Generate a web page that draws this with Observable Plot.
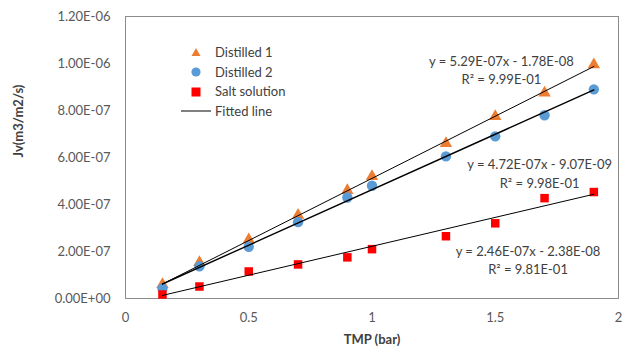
<!DOCTYPE html>
<html>
<head>
<meta charset="utf-8">
<script src="https://cdn.jsdelivr.net/npm/d3@7"></script>
<script src="https://cdn.jsdelivr.net/npm/@observablehq/plot@0.6"></script>
<style>
  html, body { margin: 0; padding: 0; background: #fff; }
  #wrap { position: relative; width: 628px; height: 353px; font-family: Lato, "Open Sans", sans-serif; }
  #legend { position: absolute; left: 180px; top: 43px; font-size: 13px; color: #404040; line-height: 19.5px; }
  #legend .row { display: flex; align-items: center; height: 19.5px; }
  #legend svg { width: 32px; height: 14px; margin-right: 3px; }
</style>
</head>
<body>
<div id="wrap"></div>
<script>
const seriesNames = ["Distilled 1", "Distilled 2", "Salt solution"];
const tmp = [0.15, 0.3, 0.5, 0.7, 0.9, 1.0, 1.3, 1.5, 1.7, 1.9];
const distilled1 = [6.0e-8, 1.54e-7, 2.5e-7, 3.55e-7, 4.6e-7, 5.2e-7, 6.6e-7, 7.75e-7, 8.75e-7, 9.95e-7];
const distilled2 = [4.3e-8, 1.37e-7, 2.2e-7, 3.25e-7, 4.3e-7, 4.8e-7, 6.05e-7, 6.9e-7, 7.8e-7, 8.9e-7];
const salt = [1.7e-8, 5.1e-8, 1.15e-7, 1.45e-7, 1.75e-7, 2.1e-7, 2.65e-7, 3.2e-7, 4.27e-7, 4.53e-7];
const fitSlopes = [5.29e-7, 4.72e-7, 2.46e-7];
const fitIntercepts = [-1.78e-8, -9.07e-9, -2.38e-8];
const eqLabels = ["y = 5.29E-07x - 1.78E-08\nR\u00B2 = 9.99E-01",
                  "y = 4.72E-07x - 9.07E-09\nR\u00B2 = 9.98E-01",
                  "y = 2.46E-07x - 2.38E-08\nR\u00B2 = 9.81E-01"];
const yTicks = [0, 2e-7, 4e-7, 6e-7, 8e-7, 1e-6, 1.2e-6];
const yTickLabels = ["0.00E+00", "2.00E-07", "4.00E-07", "6.00E-07", "8.00E-07", "1.00E-06", "1.20E-06"];
const xTicks = [0, 0.5, 1, 1.5, 2];
const xTickLabels = ["0", "0.5", "1", "1.5", "2"];

const colors = ["#ED7D31", "#5B9BD5", "#FF0000"];
const symbols = ["triangle", "circle", "square"];
const radii = [4.6, 5.2, 4.8];
const seriesValues = [distilled1, distilled2, salt];

const points = seriesValues.map((vals, s) => tmp.map((x, i) => ({x, y: vals[i], s})));
const xMin = d3.min(tmp), xMax = d3.max(tmp);
const fits = fitSlopes.flatMap((m, s) => [xMin, xMax].map(x => ({x, y: m * x + fitIntercepts[s], s})));
// annotation anchors (data coordinates)
const eqPos = [{x: 1.525, y: 9.77e-7}, {x: 1.68, y: 5.38e-7}, {x: 1.633, y: 1.68e-7}];
const eqData = eqLabels.map((t, i) => ({...eqPos[i], t}));

const yFmt = d => yTickLabels[yTicks.findIndex(v => Math.abs(v - d) < 1e-12)];
const xFmt = d => xTickLabels[xTicks.indexOf(d)];

const chart = Plot.plot({
  width: 628,
  height: 353,
  marginLeft: 125,
  marginRight: 10,
  marginTop: 16,
  marginBottom: 55,
  style: {fontFamily: "Lato, 'Open Sans', sans-serif", fontSize: "13px", background: "#fff"},
  x: {domain: [0, 2], ticks: xTicks, tickFormat: xFmt, label: null},
  y: {domain: [0, 1.2e-6], ticks: yTicks, tickFormat: yFmt, label: null},
  marks: [
    Plot.frame({stroke: "#8c8c8c", strokeWidth: 1}),
    Plot.axisX({ticks: xTicks, tickFormat: xFmt, tickSize: 0, tickPadding: 14, fill: "#595959", label: null, fontSize: 13}),
    Plot.axisY({ticks: yTicks, tickFormat: yFmt, tickSize: 0, tickPadding: 15, fill: "#595959", label: null, fontSize: 13}),
    ...[0, 1, 2].map(s => Plot.dot(points[s], {x: "x", y: "y", symbol: () => symbols[s], r: radii[s], fill: colors[s], stroke: "none"})),
    ...[0, 1, 2].map(s => Plot.line(fits.filter(d => d.s === s), {x: "x", y: "y", stroke: "#000", strokeWidth: s === 1 ? 1.4 : 1})),
    Plot.text(eqData, {x: "x", y: "y", text: "t", fill: "#404040", fontSize: 13, lineHeight: 1.45, textAnchor: "middle"}),
    Plot.text(["Jv(m3/m2/s)"], {frameAnchor: "left", rotate: -90, dx: -107, fontWeight: "bold", fill: "#404040", fontSize: 13}),
    Plot.text(["TMP (bar)"], {frameAnchor: "bottom", dy: 45, fontWeight: "bold", fill: "#404040", fontSize: 13})
  ]
});

const wrap = document.getElementById("wrap");
wrap.appendChild(chart);

const legend = document.createElement("div");
legend.id = "legend";
const legendItems = [
  {name: seriesNames[0], svg: `<polygon points="16,2 20.5,10 11.5,10" fill="${colors[0]}"/>`},
  {name: seriesNames[1], svg: `<circle cx="16" cy="7" r="4.6" fill="${colors[1]}"/>`},
  {name: seriesNames[2], svg: `<rect x="11.5" y="2.5" width="9" height="9" fill="${colors[2]}"/>`},
  {name: "Fitted line", svg: `<line x1="1" x2="31" y1="7" y2="7" stroke="#000" stroke-width="1"/>`}
];
legend.innerHTML = legendItems.map(it => `<div class="row"><svg viewBox="0 0 32 14">${it.svg}</svg><span>${it.name}</span></div>`).join("");
wrap.appendChild(legend);
</script>
</body>
</html>
